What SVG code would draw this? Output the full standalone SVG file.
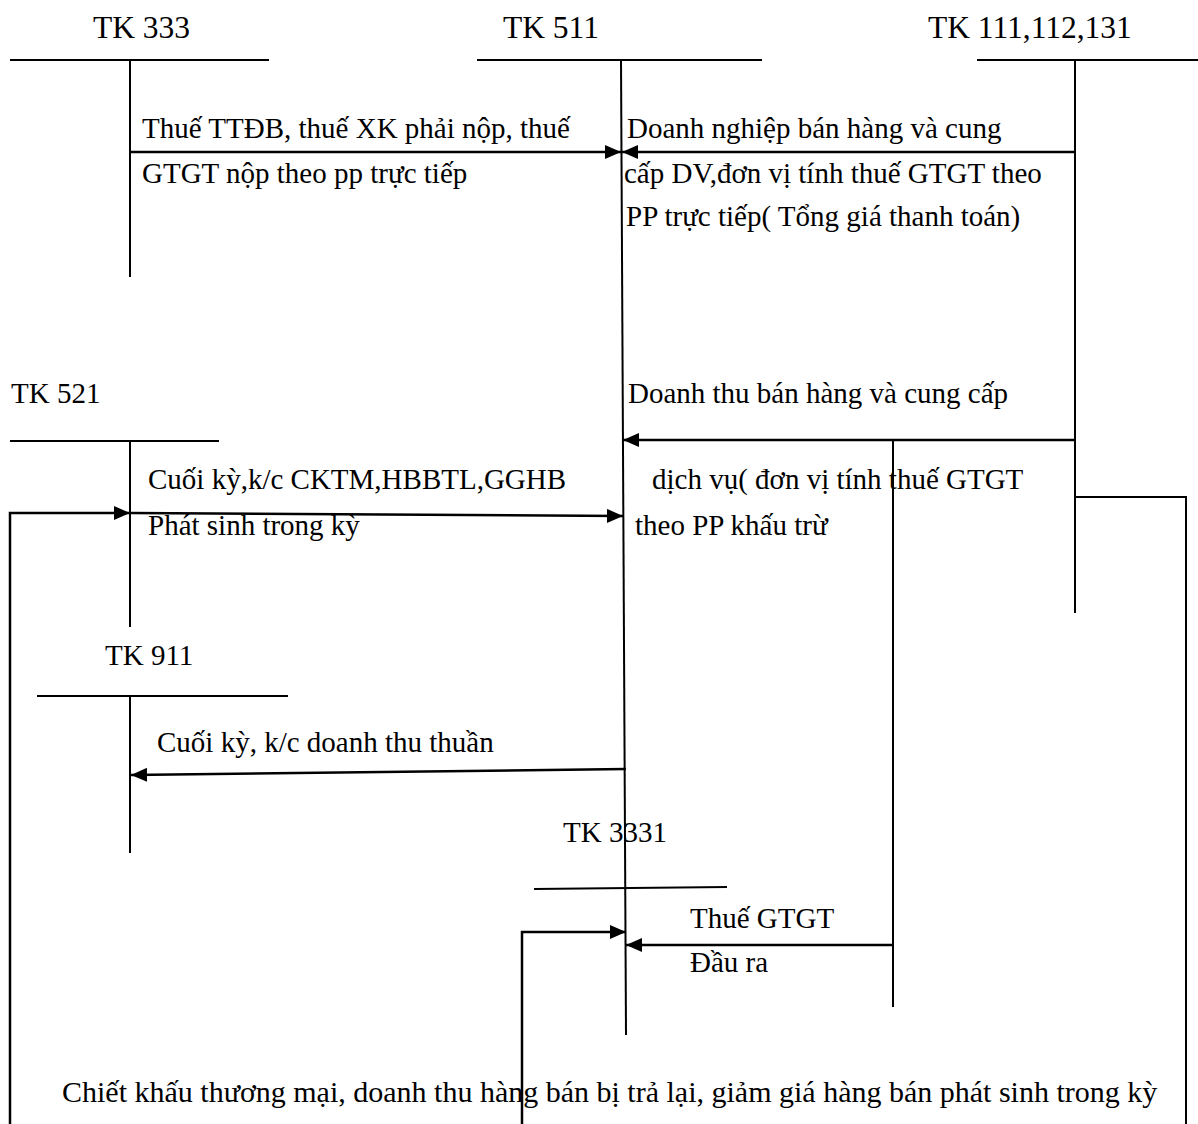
<svg xmlns="http://www.w3.org/2000/svg" width="1198" height="1124" viewBox="0 0 1198 1124">
<style>
text{font-family:"Liberation Serif","Times New Roman",serif;font-size:29px;fill:#000}
text.big{font-size:31.5px}
.ac{stroke:#000;stroke-width:2;fill:none}
.cn{stroke:#000;stroke-width:2.5;fill:none}
</style>
<defs>
<marker id="ah" viewBox="0 0 16 14" refX="16" refY="7" markerWidth="16" markerHeight="14" markerUnits="userSpaceOnUse" orient="auto">
<path d="M0,0 L16,7 L0,14 z" fill="#000"/>
</marker>
</defs>
<rect width="1198" height="1124" fill="#fff"/>
<g id="tk333">
<text class="big" x="93" y="38">TK 333</text>
<line class="ac" x1="10" y1="60" x2="269" y2="60"/>
<line class="ac" x1="130" y1="60" x2="130" y2="277"/>
</g>
<g id="tk511">
<text class="big" x="503" y="38">TK 511</text>
<line class="ac" x1="477" y1="60" x2="762" y2="60"/>
<line class="ac" x1="621" y1="60" x2="626" y2="1035"/>
</g>
<g id="tk111">
<text class="big" x="928" y="38">TK 111,112,131</text>
<line class="ac" x1="977" y1="60" x2="1198" y2="60"/>
<line class="ac" x1="1075" y1="60" x2="1075" y2="613"/>
</g>
<g id="tk521">
<text x="11" y="403">TK 521</text>
<line class="ac" x1="10" y1="441" x2="219" y2="441"/>
<line class="ac" x1="130" y1="441" x2="130" y2="627"/>
</g>
<g id="tk911">
<text x="105" y="665">TK 911</text>
<line class="ac" x1="37" y1="696" x2="288" y2="696"/>
<line class="ac" x1="130" y1="696" x2="130" y2="853"/>
</g>
<g id="tk3331">
<text x="563" y="842">TK 3331</text>
<line class="ac" x1="534" y1="889" x2="727" y2="887"/>
</g>
<g id="connectors">
<line class="cn" x1="130" y1="152" x2="621" y2="152" marker-end="url(#ah)"/>
<line class="cn" x1="1075" y1="152" x2="622" y2="152" marker-end="url(#ah)"/>
<line class="cn" x1="1075" y1="440" x2="623" y2="440" marker-end="url(#ah)"/>
<line class="cn" x1="130" y1="513" x2="623" y2="516" marker-end="url(#ah)"/>
<polyline class="cn" points="10,1124 10,513 130,513" marker-end="url(#ah)"/>
<line class="cn" x1="626" y1="769" x2="131" y2="775" marker-end="url(#ah)"/>
<line class="ac" x1="893" y1="440" x2="893" y2="1007"/>
<line class="cn" x1="893" y1="945" x2="626" y2="945" marker-end="url(#ah)"/>
<polyline class="cn" points="522,1124 522,932 626,932" marker-end="url(#ah)"/>
<polyline class="ac" points="1075,497 1186,497 1186,1124"/>
</g>
<g id="labels">
<text x="142" y="138">Thuế TTĐB, thuế XK phải nộp, thuế</text>
<text x="142" y="183">GTGT nộp theo pp trực tiếp</text>
<text x="627" y="138">Doanh nghiệp bán hàng và cung</text>
<text x="624" y="183">cấp DV,đơn vị tính thuế GTGT theo</text>
<text x="626" y="226">PP trực tiếp( Tổng giá thanh toán)</text>
<text x="628" y="403">Doanh thu bán hàng và cung cấp</text>
<text x="652" y="489">dịch vụ( đơn vị tính thuế GTGT</text>
<text x="635" y="535">theo PP khấu trừ</text>
<text x="148" y="489">Cuối kỳ,k/c CKTM,HBBTL,GGHB</text>
<text x="148" y="535">Phát sinh trong kỳ</text>
<text x="157" y="752">Cuối kỳ, k/c doanh thu thuần</text>
<text x="690" y="928">Thuế GTGT</text>
<text x="690" y="972">Đầu ra</text>
<text x="62" y="1102" style="font-size:30px">Chiết khấu thương mại, doanh thu hàng bán bị trả lại, giảm giá hàng bán phát sinh trong kỳ</text>
</g>
</svg>
